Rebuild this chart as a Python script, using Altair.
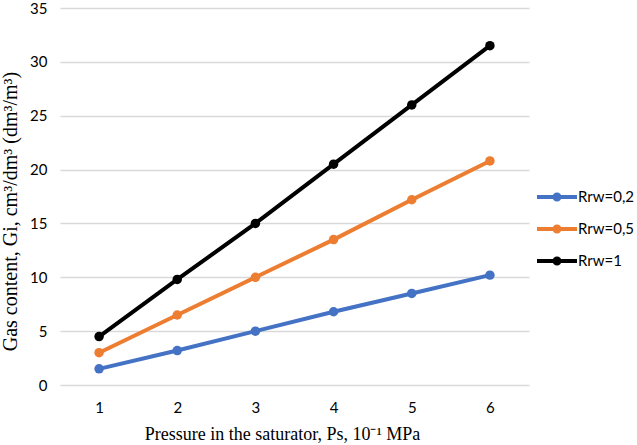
import altair as alt
import pandas as pd

pressure = [1, 2, 3, 4, 5, 6]
series_names = ["Rrw=0,2", "Rrw=0,5", "Rrw=1"]
rrw_02 = [1.5, 3.2, 5.0, 6.8, 8.5, 10.2]
rrw_05 = [3.0, 6.5, 10.0, 13.5, 17.2, 20.8]
rrw_1 = [4.5, 9.8, 15.0, 20.5, 26.0, 31.5]
colors = ["#4472C4", "#ED7D31", "#000000"]

rows = []
for name, vals in zip(series_names, [rrw_02, rrw_05, rrw_1]):
    for p, v in zip(pressure, vals):
        rows.append({"p": str(p), "g": v, "s": name})
df = pd.DataFrame(rows)

legend_shape = "M-2,0H2M0.25,0A0.25,0.25 0 1,1 -0.25,0A0.25,0.25 0 1,1 0.25,0"

x = alt.X("p:O", title="Pressure in the saturator, Ps, 10⁻¹ MPa",
          axis=alt.Axis(labelAngle=0, ticks=False, domain=False, labelPadding=15,
                        titlePadding=10, titleX=222, titleFontSize=18))
y = alt.Y("g:Q", title="Gas content, Gi, cm³/dm³ (dm³/m³)",
          scale=alt.Scale(domain=[0, 35], nice=False),
          axis=alt.Axis(values=[0, 5, 10, 15, 20, 25, 30, 35], ticks=False, domain=False,
                        labelPadding=13, titlePadding=9, titleY=203, titleFontSize=20,
                        gridColor="#D9D9D9", gridWidth=1.3))
color = alt.Color("s:N", title=None,
                  scale=alt.Scale(domain=series_names, range=colors),
                  legend=alt.Legend(orient="none", legendX=485, legendY=177,
                                    symbolType=legend_shape, symbolSize=400,
                                    symbolStrokeWidth=4, symbolFillColor="transparent",
                                    labelFont="Lato", labelFontSize=15, labelColor="#000000",
                                    labelOffset=9, rowPadding=9))

line = alt.Chart(df).mark_line(strokeWidth=4).encode(x=x, y=y, color=color)
pts = alt.Chart(df).mark_circle(size=90, opacity=1).encode(x=x, y=y, color=alt.Color("s:N", scale=alt.Scale(domain=series_names, range=colors), legend=None))

chart = (line + pts).properties(
    width=469, height=377,
    autosize=alt.AutoSizeParams(type="none"),
    padding={"left": 60, "top": 8, "right": 108, "bottom": 60},
).configure_view(stroke=None).configure_axis(
    labelFont="Lato", labelFontSize=15, labelColor="#000000",
    titleFont="Liberation Serif", titleFontWeight="normal", titleColor="#000000",
).configure_axisX(grid=False)

chart.save("out.html", embed_options={"renderer": "svg", "actions": False})
